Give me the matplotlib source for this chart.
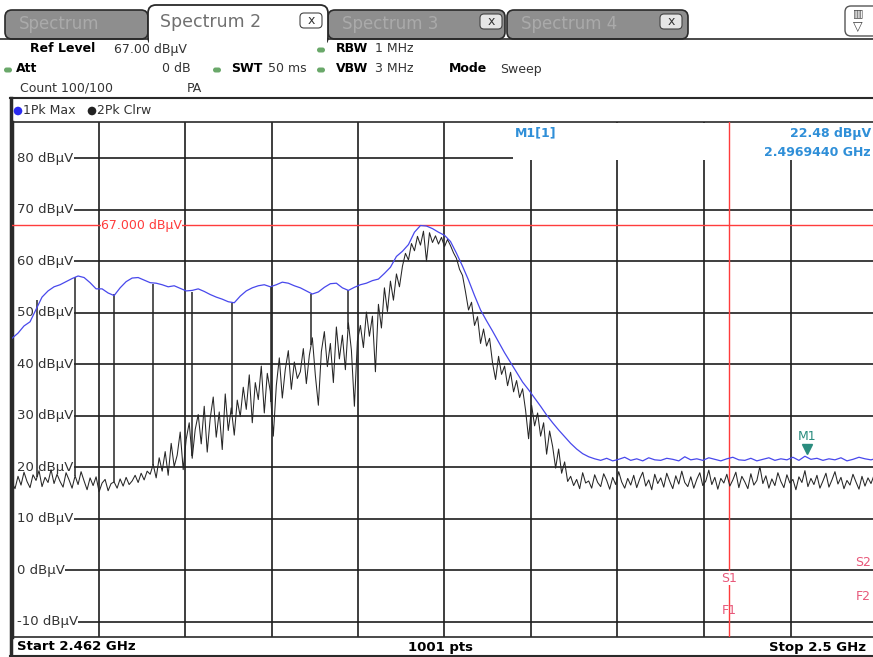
import numpy as np
import matplotlib
matplotlib.use('Agg')
import matplotlib.pyplot as plt
from matplotlib.patches import FancyBboxPatch, Rectangle, Circle
from matplotlib import transforms

# sweep settings
start_ghz = 2.462
stop_ghz = 2.5
ref_level = 67.0
level_ticks = [80, 70, 60, 50, 40, 30, 20, 10, 0, -10]
tick_labels = ['80 dBµV', '70 dBµV', '60 dBµV', '50 dBµV', '40 dBµV',
               '30 dBµV', '20 dBµV', '10 dBµV', '0 dBµV', '-10 dBµV']

# trace 1: 1Pk Max (max hold), evenly spaced over the span
max_hold = [
    45.0, 46.0, 47.4, 48.2, 50.6, 53.0, 54.2, 55.0, 55.4, 56.0,
    56.6, 57.1, 56.8, 55.8, 54.6, 54.6, 53.8, 53.3, 54.8, 56.0,
    56.7, 56.8, 56.3, 55.8, 55.7, 55.4, 55.0, 55.2, 54.7, 54.2,
    54.3, 54.6, 54.1, 53.5, 53.0, 52.6, 52.1, 51.9, 53.2, 54.2,
    54.8, 55.2, 55.4, 55.0, 55.4, 55.9, 55.7, 55.2, 54.8, 54.2,
    53.6, 54.0, 54.9, 55.6, 55.7, 54.8, 54.3, 54.9, 55.4, 55.7,
    56.2, 56.5, 57.6, 58.8, 60.9, 61.9, 63.2, 65.6, 66.9, 66.8,
    66.3, 65.6, 65.0, 63.8, 61.5, 59.0, 56.3, 53.3, 50.5, 48.4,
    46.4, 44.3, 42.2, 40.3, 38.4, 36.5, 35.0, 33.4, 31.8, 30.1,
    28.6, 27.2, 25.9, 24.6, 23.5, 22.6, 22.0, 21.6,
    21.3, 21.7, 21.2, 21.5, 21.9, 21.3, 21.6, 21.2, 21.8, 21.4,
    21.3, 21.7, 21.5, 21.2, 22.0, 21.4, 21.6, 21.3, 21.8, 21.5,
    21.2, 21.6, 21.9, 21.4, 21.3, 21.7, 21.2, 21.5, 21.8, 21.3,
    21.6, 21.4, 21.9, 21.3, 22.1, 21.5, 21.7, 21.3, 21.6, 21.4,
    21.8, 21.2, 21.5, 21.9, 21.6, 21.4, 21.7,
]

# trace 2: 2Pk Clrw (clear write), evenly spaced over the span
clrw = [
    17.0, 15.8, 18.2, 16.5, 19.0, 17.2, 16.0, 18.5, 17.4, 19.3, 16.2, 18.0, 17.0, 19.5, 16.8, 18.6,
    17.2, 16.1, 18.9, 17.5, 15.9, 18.3, 16.6, 19.1, 17.3, 15.6, 17.9, 16.4, 18.1, 15.2, 16.9, 17.6,
    15.4, 16.8, 17.1, 15.9, 17.7, 16.3, 18.0, 16.6, 17.3, 18.4, 17.0, 18.8, 17.5, 19.2,
    18.6, 20.5, 17.9, 21.8, 19.2, 23.0, 18.4, 24.6, 20.1, 22.3, 26.8, 19.5, 25.4, 28.6, 21.7, 27.3, 30.2,
    24.5, 31.8, 22.9, 29.5, 33.6, 25.8, 30.7, 23.4, 34.2, 27.1, 31.5, 26.2, 33.0,
    29.8, 35.5, 31.2, 37.9, 28.6, 36.4, 33.1, 39.6, 30.5, 38.2, 34.7, 26.0, 35.8, 41.2, 33.4, 39.0,
    42.6, 35.1, 40.4, 37.2,
    38.5, 43.0, 36.2, 41.7, 45.1, 37.8, 32.0, 42.4, 46.3, 39.5, 44.0, 36.4, 47.2, 41.0, 45.6, 38.9,
    48.0, 42.7, 31.8, 44.5,
    47.5, 43.2, 50.1, 45.4, 49.3, 38.5, 51.6, 47.0, 54.8, 50.2, 56.1, 52.4, 57.5, 55.0,
    59.0, 61.5, 60.2, 63.4, 62.0, 64.8, 63.1, 65.8, 60.0, 65.5, 63.6, 64.9, 63.3, 64.6, 62.8, 64.2,
    63.0, 61.6, 60.5, 58.4, 57.2,
    54.0, 50.5, 52.0, 47.5, 49.2, 44.0, 46.8, 43.5, 45.0, 40.2, 37.0, 41.5, 38.0, 39.6, 35.8, 38.4,
    34.6, 36.8, 33.5, 35.2,
    31.0, 25.5, 32.0, 28.0, 30.5, 26.0, 28.6, 22.5, 27.0, 24.0, 19.8, 23.5, 18.8, 21.0, 17.2,
    18.2, 16.4, 17.6, 15.8, 18.9, 16.9, 17.3, 15.9, 18.5, 17.0,
    16.2, 18.7, 17.4, 15.7, 18.0, 16.6, 19.1, 17.1, 15.9, 17.8,
    16.5, 18.4, 16.0, 17.7, 19.0, 16.3, 17.5, 15.6, 18.6, 16.8,
    17.9, 16.1, 18.8, 17.2, 15.8, 18.3, 16.7, 19.2, 17.0, 16.2,
    18.1, 15.9, 17.6, 18.9, 16.4, 17.3, 19.4, 16.6, 18.0, 15.7,
    17.8, 16.9, 18.6, 16.3, 17.5, 19.0, 16.0, 18.2, 17.1, 15.8,
    18.7, 16.5, 17.4, 20.1, 16.8, 18.3, 15.9, 17.7, 16.4, 18.9,
    17.2, 16.0, 18.5, 16.9, 17.6, 15.6, 18.1, 17.0, 19.3, 16.2,
    17.8, 16.6, 18.4, 15.9, 17.3, 18.8, 16.1, 17.5, 19.1, 16.7,
    18.0, 15.8, 17.4, 16.5, 18.6, 17.1, 15.7, 18.2, 16.3, 17.9,
    16.8, 18.4, 17.0,
]

# narrow hopping bursts caught by the clear-write trace
spike_ghz = [2.46310, 2.46477, 2.46648, 2.46819, 2.46991, 2.47166, 2.47338, 2.47514, 2.47676]
spike_top = [52.4, 56.9, 53.6, 55.5, 54.0, 51.9, 55.0, 53.6, 54.4]

f1_ghz = 2.4935
m1_ghz = 2.496944
m1_level = 22.48

RED = '#ff3c3c'
PINK = '#e8587a'
MBLUE = '#2f8fd8'
TEAL = '#2a8c7e'
GRID = '#1e1e1e'
GREEN = '#6aa86a'

fig = plt.figure(figsize=(8.73, 6.57), dpi=100)
fig.patch.set_facecolor('white')

# pixel-coordinate layer for the instrument UI
ui = fig.add_axes([0, 0, 1, 1])
ui.set_xlim(0, 873)
ui.set_ylim(657, 0)
ui.axis('off')

# tabs
for x0, w, name, xb in [(5, 143, 'Spectrum', None), (328, 177, 'Spectrum 3', 480), (507, 181, 'Spectrum 4', 660)]:
    ui.add_patch(FancyBboxPatch((x0, 10), w, 29, boxstyle='round,pad=0,rounding_size=7',
                                fc='#8e8e8e', ec='#2a2a2a', lw=1.2))
    ui.text(x0 + 14, 24, name, fontsize=12, color='#aaaaaa', va='center')
    if xb:
        ui.add_patch(FancyBboxPatch((xb, 14), 22, 15, boxstyle='round,pad=0,rounding_size=4',
                                    fc='#e6e6e6', ec='#444', lw=0.8))
        ui.text(xb + 11, 21.5, 'x', fontsize=9, ha='center', va='center', color='#333')
ui.add_patch(FancyBboxPatch((148, 5), 180, 40, boxstyle='round,pad=0,rounding_size=8',
                            fc='white', ec='#2a2a2a', lw=1.3))
ui.add_patch(Rectangle((149, 36), 178, 10, fc='white', ec='none'))
ui.text(160, 22, 'Spectrum 2', fontsize=12.5, color='#707070', va='center')
ui.add_patch(FancyBboxPatch((300, 13), 22, 15, boxstyle='round,pad=0,rounding_size=4',
                            fc='white', ec='#444', lw=0.8))
ui.text(311, 20.5, 'x', fontsize=9, ha='center', va='center', color='#333')
ui.plot([0, 148], [39, 39], color='#2a2a2a', lw=1.2)
ui.plot([328, 873], [39, 39], color='#2a2a2a', lw=1.2)
ui.add_patch(FancyBboxPatch((845, 6), 34, 30, boxstyle='round,pad=0,rounding_size=6',
                            fc='white', ec='#555', lw=1.0))
ui.text(858, 13, '▥', fontsize=8, ha='center', va='center', color='#444')
ui.text(858, 26, '▽', fontsize=9, ha='center', va='center', color='#444')

# settings panel
def led(x, y):
    ui.add_patch(FancyBboxPatch((x, y - 2.5), 8, 5, boxstyle='round,pad=0,rounding_size=2.5',
                                fc=GREEN, ec='none'))

fs = 9
ui.text(30, 49, 'Ref Level', fontsize=fs, fontweight='bold', va='center')
ui.text(114, 49, '67.00 dBµV', fontsize=fs, va='center', color='#333')
led(317, 50)
ui.text(336, 49, 'RBW', fontsize=fs, fontweight='bold', va='center')
ui.text(375, 49, '1 MHz', fontsize=fs, va='center', color='#333')
led(4, 70)
ui.text(16, 69, 'Att', fontsize=fs, fontweight='bold', va='center')
ui.text(191, 69, '0 dB', fontsize=fs, ha='right', va='center', color='#333')
led(213, 70)
ui.text(231, 69, 'SWT', fontsize=fs, fontweight='bold', va='center')
ui.text(268, 69, '50 ms', fontsize=fs, va='center', color='#333')
led(317, 70)
ui.text(336, 69, 'VBW', fontsize=fs, fontweight='bold', va='center')
ui.text(375, 69, '3 MHz', fontsize=fs, va='center', color='#333')
ui.text(449, 69, 'Mode', fontsize=fs, fontweight='bold', va='center')
ui.text(500, 69, 'Sweep', fontsize=fs, va='center', color='#333')
ui.text(20, 88, 'Count 100/100', fontsize=fs, va='center', color='#333')
ui.text(187, 88, 'PA', fontsize=fs, va='center', color='#333')

# diagram frame and trace legend
ui.plot([10, 873], [98, 98], color='#2a2a2a', lw=1.5)
ui.plot([11, 11], [98, 657], color='#2a2a2a', lw=2.5)
ui.plot([10, 873], [655.5, 655.5], color='#2a2a2a', lw=1.5)
ui.add_patch(Circle((18, 111), 4.3, fc='#2b2bf0', ec='none'))
ui.text(23, 111, '1Pk Max', fontsize=9, va='center', color='#333')
ui.add_patch(Circle((92, 111), 4.3, fc='#222', ec='none'))
ui.text(97, 111, '2Pk Clrw', fontsize=9, va='center', color='#333')

# status bar
ui.text(17, 647, 'Start 2.462 GHz', fontsize=9.5, fontweight='bold', va='center')
ui.text(440, 647, '1001 pts', fontsize=9.5, fontweight='bold', va='center', ha='center')
ui.text(866, 647, 'Stop 2.5 GHz', fontsize=9.5, fontweight='bold', va='center', ha='right')

# diagram
ax = fig.add_axes([12 / 873, 1 - 637 / 657, 865 / 873, 515 / 657])
ax.set_facecolor('white')
px = ui.transData
x_px_y_data = transforms.blended_transform_factory(px, ax.transData)
x_data_y_px = transforms.blended_transform_factory(ax.transData, px)

span = stop_ghz - start_ghz
for k in range(1, 10):
    ax.axvline(start_ghz + k * span / 10, color=GRID, lw=1.2, zorder=1)
for lvl, lab in zip(level_ticks, tick_labels):
    ax.plot([22, 880], [lvl, lvl], transform=x_px_y_data, color=GRID, lw=1.2, zorder=1,
            solid_capstyle='butt')
    ax.text(17, lvl, lab, transform=x_px_y_data, fontsize=9.5, va='center', color='#333',
            zorder=2, bbox=dict(fc='white', ec='none', pad=0.2))

# marker readout area
ax.add_patch(Rectangle((513, 123), 370, 37, transform=px, fc='white', ec='none', zorder=1.5))
ax.text(515, 133, 'M1[1]', transform=px, fontsize=9, color=MBLUE, fontweight='bold', va='center', zorder=6)
ax.text(871, 133, '22.48 dBµV', transform=px, fontsize=9, color=MBLUE, fontweight='bold',
        va='center', ha='right', zorder=6)
ax.text(871, 152, '2.4969440 GHz', transform=px, fontsize=9, color=MBLUE, fontweight='bold',
        va='center', ha='right', zorder=6)

# reference line and frequency line
ax.axhline(ref_level, color=RED, lw=1.0, zorder=3)
ax.text(101, ref_level, '67.000 dBµV', transform=x_px_y_data, fontsize=9, color=RED,
        va='center', zorder=3.5, bbox=dict(fc='white', ec='none', pad=0.3))
ax.axvline(f1_ghz, color=RED, lw=1.0, zorder=3)
ax.text(f1_ghz, 578, 'S1', transform=x_data_y_px, fontsize=9, color=PINK, ha='center',
        va='center', zorder=3.5, bbox=dict(fc='white', ec='none', pad=0.5))
ax.text(f1_ghz, 611, 'F1', transform=x_data_y_px, fontsize=9, color=PINK, ha='center',
        va='center', zorder=3.5)
ax.text(871, 562, 'S2', transform=px, fontsize=9, color=PINK, ha='right', va='center', zorder=3.5,
        bbox=dict(fc='white', ec='none', pad=0.5))
ax.text(871, 596, 'F2', transform=px, fontsize=9, color=PINK, ha='right', va='center', zorder=3.5)

# traces
f_max = np.linspace(start_ghz, stop_ghz, len(max_hold))
f_clrw = np.linspace(start_ghz, stop_ghz, len(clrw))
ax.plot(f_clrw, clrw, color='#262626', lw=0.75, zorder=4)
ax.vlines(spike_ghz, np.interp(spike_ghz, f_clrw, clrw), spike_top, color='#262626', lw=1.1, zorder=4)
ax.plot(f_max, max_hold, color='#4848ec', lw=0.9, zorder=5)

# marker M1
up = transforms.ScaledTranslation(0, 3.6 / 72, fig.dpi_scale_trans)
ax.plot([m1_ghz], [m1_level], marker='v', ms=7, color=TEAL, transform=ax.transData + up, zorder=6)
ax.text(m1_ghz, 437, 'M1', transform=x_data_y_px, fontsize=9, color=TEAL, ha='center',
        va='center', zorder=6)

ax.set_xlim(start_ghz, stop_ghz)
ax.set_ylim(-13, 87)
ax.set_xticks([])
ax.set_yticks([])
ax.spines['right'].set_visible(False)
ax.spines['left'].set_linewidth(2.5)
ax.spines['top'].set_linewidth(1.2)
ax.spines['bottom'].set_linewidth(1.2)
for s in ax.spines.values():
    s.set_color('#2a2a2a')

fig.savefig('out.png', dpi=100)
